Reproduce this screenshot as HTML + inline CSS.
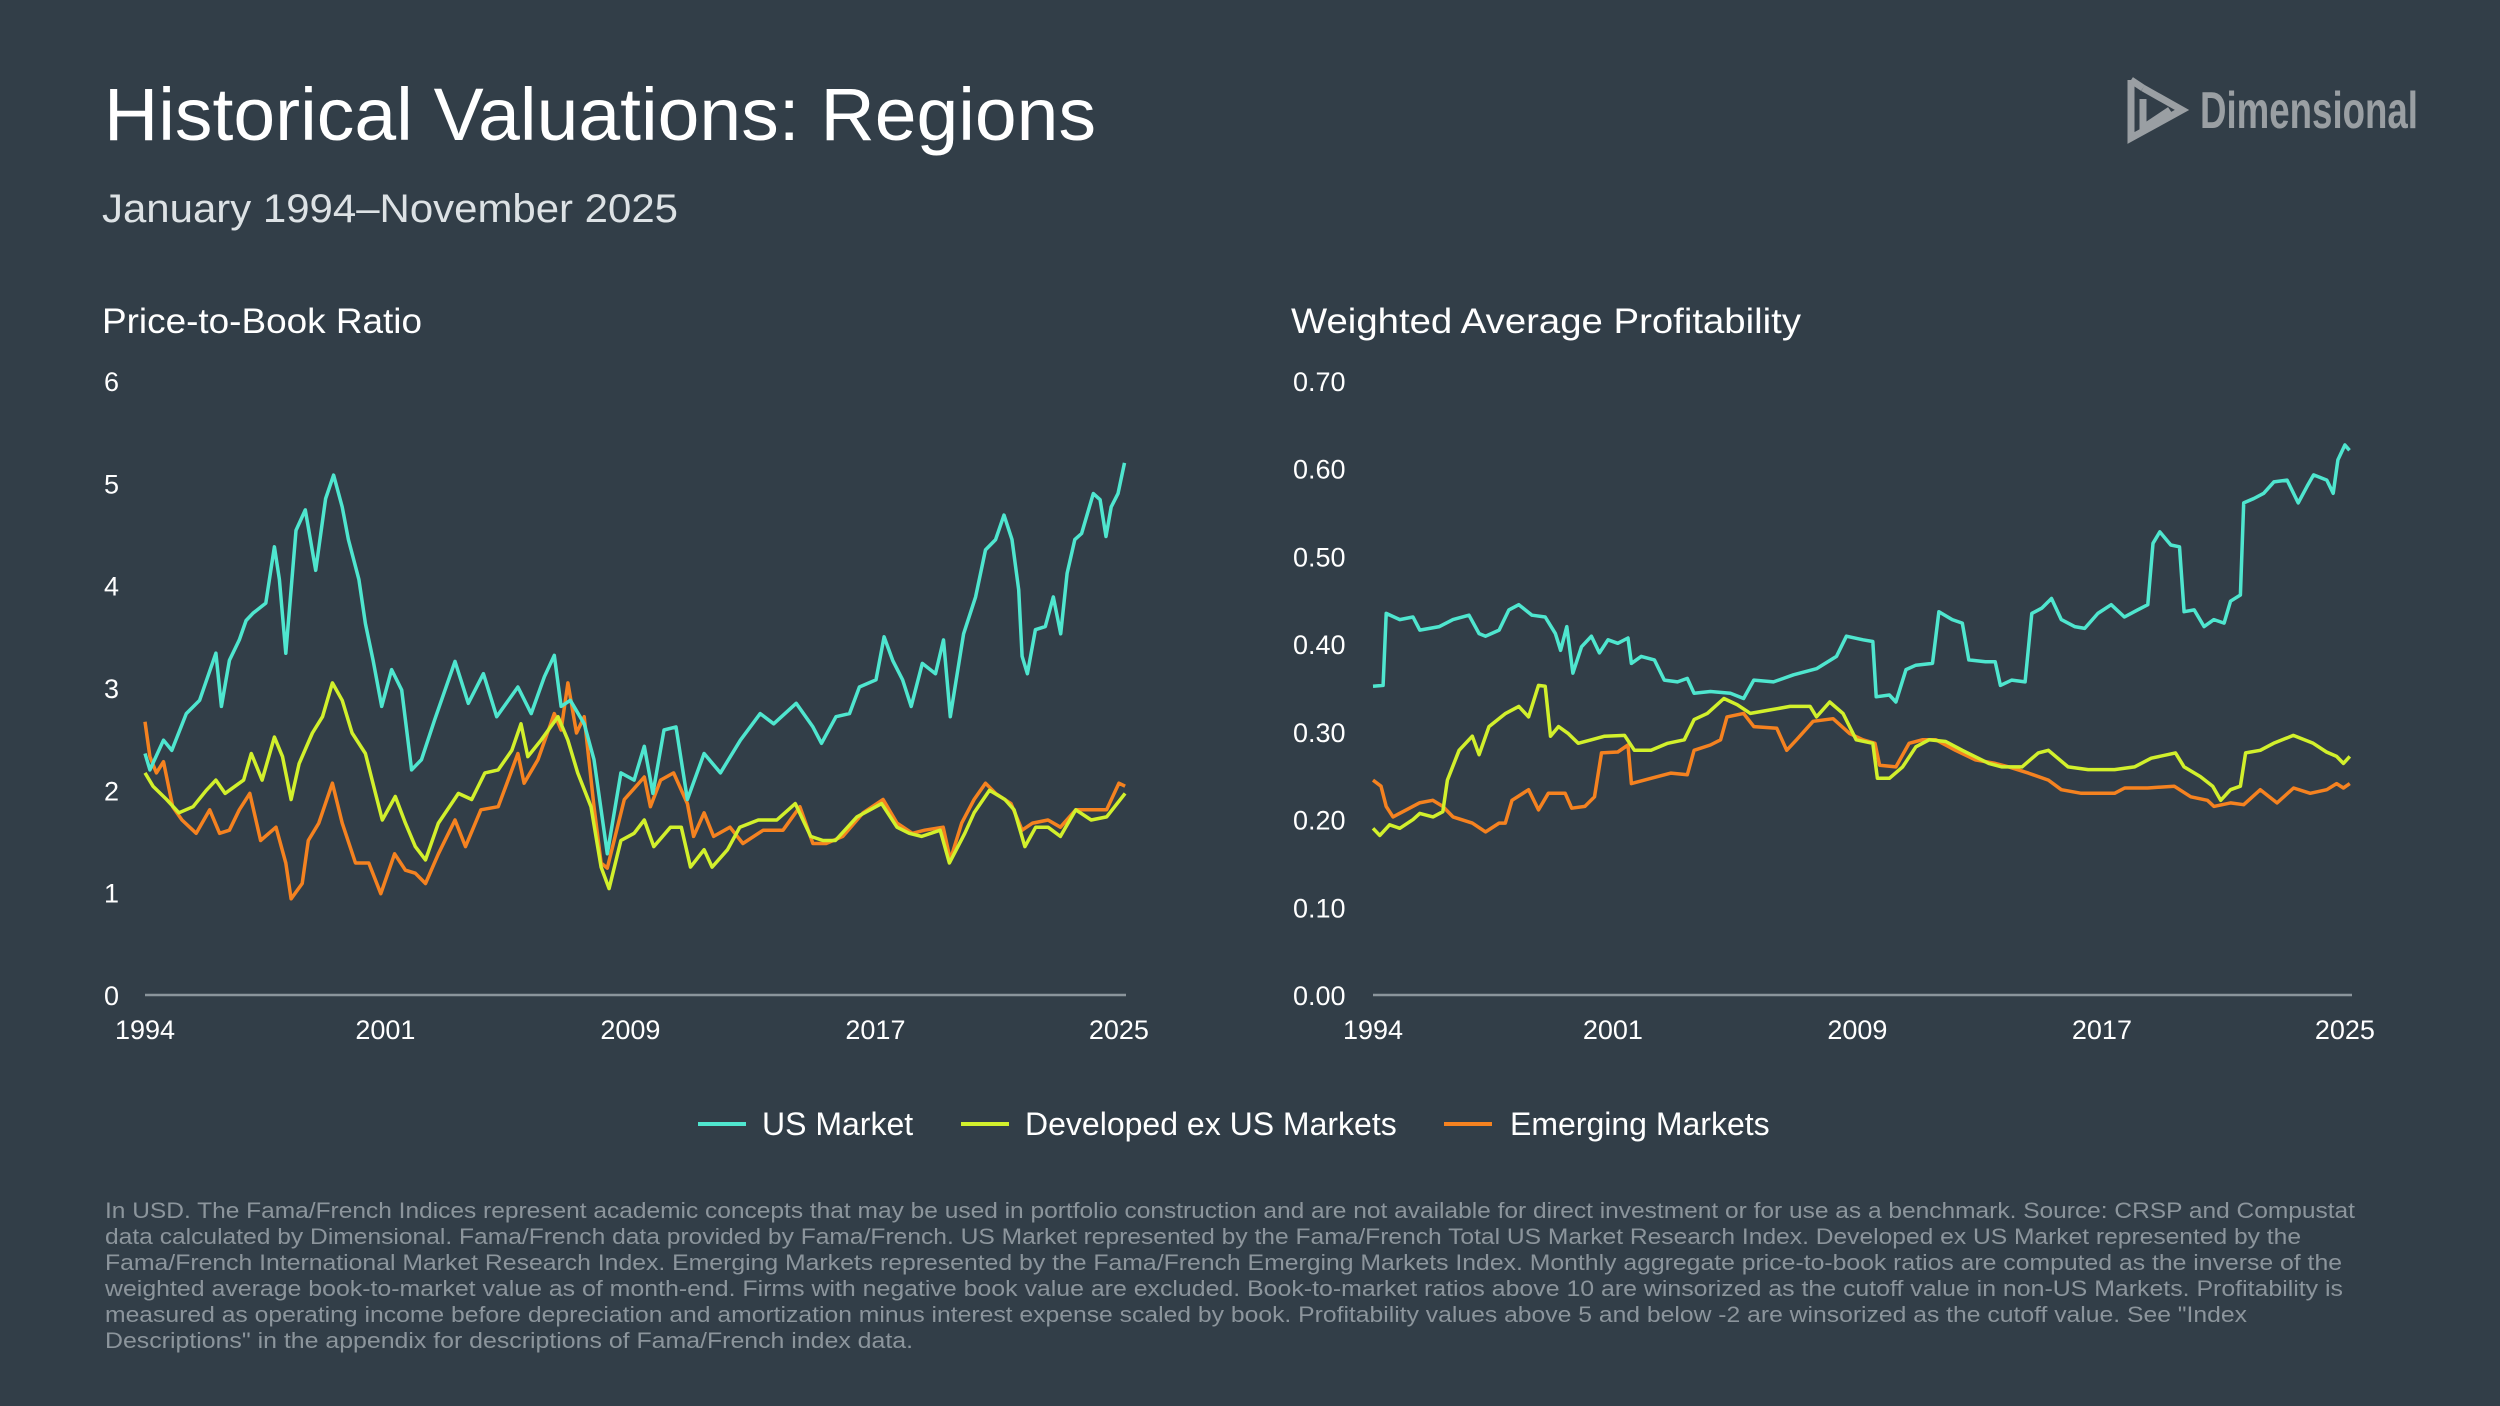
<!DOCTYPE html>
<html><head><meta charset="utf-8"><title>Historical Valuations: Regions</title>
<style>
html,body{margin:0;padding:0;background:#323e48;}
svg{display:block;font-family:"Liberation Sans",sans-serif;}
</style></head>
<body>
<svg id="root" width="2500" height="1406" viewBox="0 0 2500 1406" xmlns="http://www.w3.org/2000/svg">
<rect x="0" y="0" width="2500" height="1406" fill="#323e48"/>
<text x="104" y="140" font-size="74" fill="#ffffff" font-weight="300" textLength="992" lengthAdjust="spacingAndGlyphs">Historical Valuations: Regions</text>
<text x="102" y="222" font-size="40" fill="#dde2e5" textLength="576" lengthAdjust="spacingAndGlyphs">January 1994–November 2025</text>
<g>
<g fill="none" stroke="#9a9fa3" stroke-width="7">
<path d="M2131 80 L2131 138 L2182 110 L2143 88"/>
<path d="M2143 99 L2143 128 L2170 110"/>
<path d="M2131 80 L2143 88"/>
</g>
<text x="2200" y="128" font-size="52" font-weight="bold" fill="#9a9fa3" textLength="218" lengthAdjust="spacingAndGlyphs">Dimensional</text>
</g>
<text x="102" y="333" font-size="35" fill="#ffffff" textLength="320" lengthAdjust="spacingAndGlyphs">Price-to-Book Ratio</text>
<text x="1291" y="333" font-size="35" fill="#ffffff" textLength="510" lengthAdjust="spacingAndGlyphs">Weighted Average Profitability</text>
<g id="left"></g>
<g id="right"></g>
<g>
<g>
<line x1="698" y1="1124" x2="746" y2="1124" stroke="#4fe6cf" stroke-width="4"/>
<text x="762" y="1135" font-size="32" fill="#ffffff">US Market</text></g>
<g>
<line x1="961" y1="1124" x2="1009" y2="1124" stroke="#d2f02c" stroke-width="4"/>
<text x="1025" y="1135" font-size="32" fill="#ffffff">Developed ex US Markets</text></g>
<g>
<line x1="1444" y1="1124" x2="1492" y2="1124" stroke="#f58220" stroke-width="4"/>
<text x="1510" y="1135" font-size="32" fill="#ffffff">Emerging Markets</text></g>
</g>
<g font-size="22" fill="#8c959c">
<text x="105" y="1218" textLength="2250" lengthAdjust="spacingAndGlyphs">In USD. The Fama/French Indices represent academic concepts that may be used in portfolio construction and are not available for direct investment or for use as a benchmark. Source: CRSP and Compustat</text>
<text x="105" y="1244" textLength="2196" lengthAdjust="spacingAndGlyphs">data calculated by Dimensional. Fama/French data provided by Fama/French. US Market represented by the Fama/French Total US Market Research Index. Developed ex US Market represented by the</text>
<text x="105" y="1270" textLength="2237" lengthAdjust="spacingAndGlyphs">Fama/French International Market Research Index. Emerging Markets represented by the Fama/French Emerging Markets Index. Monthly aggregate price-to-book ratios are computed as the inverse of the</text>
<text x="105" y="1296" textLength="2238" lengthAdjust="spacingAndGlyphs">weighted average book-to-market value as of month-end. Firms with negative book value are excluded. Book-to-market ratios above 10 are winsorized as the cutoff value in non-US Markets. Profitability is</text>
<text x="105" y="1322" textLength="2142" lengthAdjust="spacingAndGlyphs">measured as operating income before depreciation and amortization minus interest expense scaled by book. Profitability values above 5 and below -2 are winsorized as the cutoff value. See "Index</text>
<text x="105" y="1348" textLength="808" lengthAdjust="spacingAndGlyphs">Descriptions" in the appendix for descriptions of Fama/French index data.</text>
</g>
</svg>
<script>
const xTickLabels = ["1994","2001","2009","2017","2025"];
const xTickYears = [1994, 2001.8, 2009.75, 2017.7, 2025.6];
const pbTickLabels = ["0","1","2","3","4","5","6"];
const pbTickValues = [0,1,2,3,4,5,6];
const profTickLabels = ["0.00","0.10","0.20","0.30","0.40","0.50","0.60","0.70"];
const profTickValues = [0,0.1,0.2,0.3,0.4,0.5,0.6,0.7];

const pbUSYears = [1994.0,1994.16,1994.6,1994.87,1995.34,1995.77,1996.3,1996.48,1996.74,1997.06,1997.28,1997.5,1997.92,1998.2,1998.36,1998.57,1998.9,1999.2,1999.54,1999.86,2000.12,2000.4,2000.6,2000.94,2001.15,2001.4,2001.68,2002.0,2002.33,2002.65,2002.97,2003.4,2004.06,2004.49,2004.98,2005.41,2006.1,2006.53,2006.96,2007.28,2007.5,2007.8,2008.25,2008.57,2009.0,2009.44,2009.87,2010.2,2010.48,2010.84,2011.23,2011.6,2012.14,2012.67,2013.32,2013.96,2014.4,2015.13,2015.67,2015.95,2016.42,2016.86,2017.18,2017.72,2017.98,2018.26,2018.58,2018.86,2019.22,2019.65,2019.91,2020.13,2020.56,2020.95,2021.27,2021.6,2021.87,2022.13,2022.35,2022.46,2022.63,2022.89,2023.21,2023.47,2023.71,2023.92,2024.17,2024.39,2024.77,2024.99,2025.18,2025.35,2025.57,2025.78];
const pbUS = [2.36,2.2,2.49,2.39,2.75,2.88,3.34,2.82,3.27,3.47,3.66,3.73,3.83,4.38,4.06,3.34,4.54,4.74,4.15,4.85,5.08,4.77,4.45,4.06,3.63,3.27,2.82,3.18,2.98,2.2,2.3,2.69,3.26,2.85,3.14,2.72,3.01,2.75,3.11,3.32,2.82,2.88,2.65,2.3,1.38,2.17,2.1,2.43,1.97,2.59,2.62,1.91,2.36,2.17,2.49,2.75,2.65,2.85,2.62,2.46,2.72,2.75,3.01,3.08,3.5,3.27,3.08,2.82,3.24,3.14,3.47,2.72,3.53,3.89,4.35,4.45,4.69,4.45,3.96,3.31,3.14,3.57,3.6,3.89,3.53,4.12,4.45,4.51,4.9,4.84,4.48,4.77,4.9,5.2];

const pbDevYears = [1994.0,1994.26,1994.7,1995.1,1995.56,1995.99,1996.3,1996.6,1997.2,1997.45,1997.8,1998.2,1998.46,1998.74,1999.0,1999.43,1999.76,2000.08,2000.4,2000.72,2001.15,2001.48,2001.7,2002.12,2002.45,2002.77,2003.1,2003.52,2004.17,2004.6,2005.03,2005.46,2005.9,2006.2,2006.42,2006.85,2007.4,2007.72,2008.04,2008.47,2008.8,2009.06,2009.44,2009.87,2010.2,2010.51,2011.05,2011.4,2011.7,2012.14,2012.4,2012.9,2013.3,2013.9,2014.5,2015.1,2015.6,2016.0,2016.4,2017.1,2017.9,2018.4,2018.8,2019.2,2019.8,2020.1,2020.6,2020.9,2021.4,2021.9,2022.2,2022.55,2022.9,2023.3,2023.7,2024.2,2024.7,2025.2,2025.8];
const pbDev = [2.17,2.04,1.91,1.78,1.84,2.0,2.1,1.97,2.1,2.36,2.1,2.52,2.33,1.91,2.26,2.56,2.72,3.05,2.88,2.56,2.36,1.97,1.71,1.94,1.68,1.45,1.32,1.68,1.97,1.91,2.17,2.2,2.39,2.65,2.33,2.49,2.72,2.49,2.17,1.84,1.25,1.04,1.51,1.58,1.71,1.45,1.64,1.64,1.25,1.42,1.25,1.42,1.64,1.71,1.71,1.87,1.55,1.51,1.51,1.74,1.87,1.64,1.58,1.55,1.61,1.29,1.58,1.78,2.0,1.91,1.81,1.45,1.64,1.64,1.55,1.81,1.71,1.74,1.97];

const pbEmYears = [1994.0,1994.16,1994.37,1994.6,1994.9,1995.2,1995.66,1996.1,1996.42,1996.74,1997.06,1997.4,1997.75,1998.25,1998.57,1998.74,1999.1,1999.3,1999.64,2000.08,2000.4,2000.83,2001.26,2001.65,2002.1,2002.45,2002.77,2003.1,2003.52,2004.06,2004.4,2004.9,2005.46,2005.78,2006.1,2006.3,2006.75,2007.28,2007.5,2007.72,2008.0,2008.25,2008.57,2008.8,2009.0,2009.55,2010.2,2010.4,2010.73,2011.15,2011.6,2011.8,2012.14,2012.45,2012.98,2013.4,2014.06,2014.7,2015.25,2015.67,2016.1,2016.64,2017.3,2017.95,2018.4,2018.9,2019.3,2019.9,2020.13,2020.5,2020.9,2021.27,2021.6,2022.1,2022.46,2022.8,2023.3,2023.7,2024.2,2024.7,2025.2,2025.6,2025.8];
const pbEm = [2.67,2.33,2.17,2.28,1.84,1.71,1.58,1.81,1.58,1.61,1.81,1.97,1.51,1.64,1.29,0.94,1.09,1.51,1.68,2.07,1.68,1.29,1.29,0.99,1.38,1.22,1.19,1.09,1.38,1.71,1.45,1.81,1.84,2.1,2.36,2.07,2.3,2.75,2.59,3.05,2.56,2.72,1.84,1.29,1.24,1.91,2.13,1.84,2.1,2.17,1.87,1.55,1.78,1.55,1.64,1.48,1.61,1.61,1.84,1.48,1.48,1.55,1.78,1.91,1.68,1.58,1.61,1.64,1.32,1.68,1.91,2.07,1.97,1.87,1.61,1.68,1.71,1.64,1.81,1.81,1.81,2.07,2.04];

const prUSYears = [1994.0,1994.33,1994.43,1994.87,1995.3,1995.52,1996.16,1996.6,1997.12,1997.45,1997.66,1998.1,1998.42,1998.74,1999.17,1999.6,1999.93,2000.1,2000.3,2000.5,2000.78,2001.1,2001.36,2001.64,2001.96,2002.29,2002.4,2002.72,2003.15,2003.47,2003.9,2004.22,2004.44,2004.97,2005.62,2006.05,2006.38,2007.02,2007.67,2008.42,2009.07,2009.39,2009.93,2010.25,2010.36,2010.79,2011.0,2011.33,2011.65,2012.19,2012.4,2012.83,2013.16,2013.37,2013.91,2014.23,2014.4,2014.77,2015.2,2015.42,2015.74,2016.06,2016.38,2016.81,2017.14,2017.57,2018.0,2018.43,2018.86,2019.19,2019.36,2019.58,2019.94,2020.22,2020.37,2020.7,2021.02,2021.34,2021.67,2021.88,2022.2,2022.31,2022.64,2022.96,2023.29,2023.72,2024.08,2024.37,2024.58,2025.01,2025.22,2025.37,2025.6,2025.75];
const prUS = [0.352,0.353,0.435,0.428,0.431,0.416,0.42,0.428,0.433,0.412,0.409,0.416,0.439,0.445,0.433,0.431,0.412,0.393,0.42,0.367,0.397,0.409,0.39,0.405,0.401,0.407,0.378,0.386,0.382,0.359,0.357,0.361,0.344,0.346,0.344,0.338,0.359,0.357,0.365,0.372,0.386,0.409,0.405,0.403,0.34,0.342,0.334,0.371,0.376,0.378,0.437,0.428,0.424,0.382,0.38,0.38,0.353,0.359,0.357,0.435,0.441,0.452,0.428,0.42,0.418,0.435,0.445,0.431,0.439,0.445,0.515,0.528,0.513,0.511,0.437,0.439,0.42,0.428,0.424,0.449,0.456,0.561,0.566,0.572,0.585,0.587,0.561,0.58,0.593,0.587,0.572,0.61,0.627,0.621];

const prDevYears = [1994.0,1994.22,1994.54,1994.87,1995.3,1995.52,1995.95,1996.27,1996.42,1996.8,1997.23,1997.45,1997.77,1998.31,1998.74,1999.06,1999.38,1999.6,1999.77,2000.03,2000.35,2000.67,2001.1,2001.53,2002.18,2002.5,2003.04,2003.58,2004.12,2004.44,2004.87,2005.41,2005.84,2006.27,2006.92,2007.56,2008.21,2008.42,2008.85,2009.28,2009.71,2010.25,2010.4,2010.79,2011.22,2011.65,2012.08,2012.62,2013.16,2014.02,2014.45,2015.1,2015.63,2015.96,2016.6,2017.25,2018.11,2018.76,2019.3,2020.09,2020.37,2020.9,2021.3,2021.56,2021.88,2022.2,2022.37,2022.85,2023.28,2023.92,2024.57,2025.0,2025.33,2025.55,2025.76];
const prDev = [0.19,0.182,0.194,0.19,0.2,0.207,0.203,0.209,0.245,0.279,0.295,0.274,0.306,0.321,0.329,0.317,0.353,0.352,0.295,0.306,0.298,0.287,0.291,0.295,0.296,0.279,0.279,0.287,0.291,0.314,0.321,0.338,0.331,0.321,0.325,0.329,0.329,0.317,0.334,0.321,0.291,0.287,0.247,0.247,0.26,0.283,0.291,0.289,0.279,0.264,0.26,0.26,0.276,0.279,0.26,0.257,0.257,0.26,0.27,0.276,0.26,0.249,0.238,0.222,0.234,0.238,0.276,0.279,0.287,0.296,0.287,0.277,0.272,0.264,0.272];

const prEmYears = [1994.0,1994.26,1994.43,1994.65,1995.08,1995.51,1995.94,1996.27,1996.6,1997.23,1997.66,1998.1,1998.3,1998.52,1999.06,1999.38,1999.7,2000.25,2000.46,2000.89,2001.2,2001.43,2001.96,2002.29,2002.4,2003.04,2003.69,2004.22,2004.44,2004.97,2005.3,2005.51,2006.05,2006.38,2007.13,2007.45,2007.77,2008.31,2008.96,2009.5,2009.93,2010.32,2010.47,2011.0,2011.43,2011.86,2012.3,2012.94,2013.59,2014.23,2014.67,2015.31,2015.96,2016.38,2017.03,2018.11,2018.44,2019.19,2020.05,2020.59,2021.13,2021.34,2021.88,2022.31,2022.85,2023.39,2023.93,2024.47,2025.01,2025.33,2025.55,2025.76];
const prEm = [0.245,0.238,0.215,0.203,0.211,0.219,0.222,0.215,0.203,0.196,0.186,0.196,0.196,0.222,0.234,0.211,0.23,0.23,0.213,0.215,0.226,0.276,0.277,0.285,0.241,0.247,0.253,0.251,0.279,0.285,0.291,0.317,0.321,0.306,0.304,0.279,0.291,0.312,0.315,0.298,0.291,0.287,0.262,0.26,0.287,0.291,0.291,0.279,0.268,0.264,0.26,0.253,0.245,0.234,0.23,0.23,0.236,0.236,0.238,0.226,0.222,0.215,0.219,0.217,0.234,0.219,0.236,0.23,0.234,0.241,0.236,0.241];

const NS = "http://www.w3.org/2000/svg";
function mk(tag, attrs, parent){ const e=document.createElementNS(NS,tag); for(const k in attrs) e.setAttribute(k,attrs[k]); parent.appendChild(e); return e; }

function buildChart(gid, x0, x1, labelX, yMax, tickVals, tickLabels, series, prefix){
  const g = document.getElementById(gid);
  const yTop = 381, yBot = 995;
  const xs = yr => x0 + (yr - 1994) / (2025.83 - 1994) * (x1 - x0);
  const ys = v => yBot - v / yMax * (yBot - yTop);
  const axis = mk('line',{x1:x0,y1:yBot,x2:x1,y2:yBot,stroke:'#8b959c','stroke-width':2.5},g);
  
  
  tickVals.forEach((v,i)=>{
    const t = mk('text',{x:labelX,y:ys(v)+10,'font-size':27,fill:'#ffffff'},g);
    t.textContent = tickLabels[i];
    
    
  });
  xTickYears.forEach((yr,i)=>{
    const t = mk('text',{x:xs(yr),y:1039,'font-size':27,fill:'#ffffff','text-anchor':'middle'},g);
    t.textContent = xTickLabels[i];
    
    
  });
  series.forEach(s=>{
    const d = s.years.map((yr,i)=>(i?'L':'M')+xs(yr).toFixed(1)+' '+ys(s.vals[i]).toFixed(1)).join(' ');
    const p = mk('path',{d:d,fill:'none',stroke:s.color,'stroke-width':3.5,'stroke-linejoin':'round'},g);
    
    
  });
}
buildChart('left',145,1126,104,6,pbTickValues,pbTickLabels,[
  {name:'emerging',years:pbEmYears,vals:pbEm,color:'#f58220'},
  {name:'developed-ex-us',years:pbDevYears,vals:pbDev,color:'#d2f02c'},
  {name:'us-market',years:pbUSYears,vals:pbUS,color:'#4fe6cf'}
],'pb');
buildChart('right',1373,2352,1293,0.7,profTickValues,profTickLabels,[
  {name:'emerging',years:prEmYears,vals:prEm,color:'#f58220'},
  {name:'developed-ex-us',years:prDevYears,vals:prDev,color:'#d2f02c'},
  {name:'us-market',years:prUSYears,vals:prUS,color:'#4fe6cf'}
],'prof');
</script>
</body></html>
